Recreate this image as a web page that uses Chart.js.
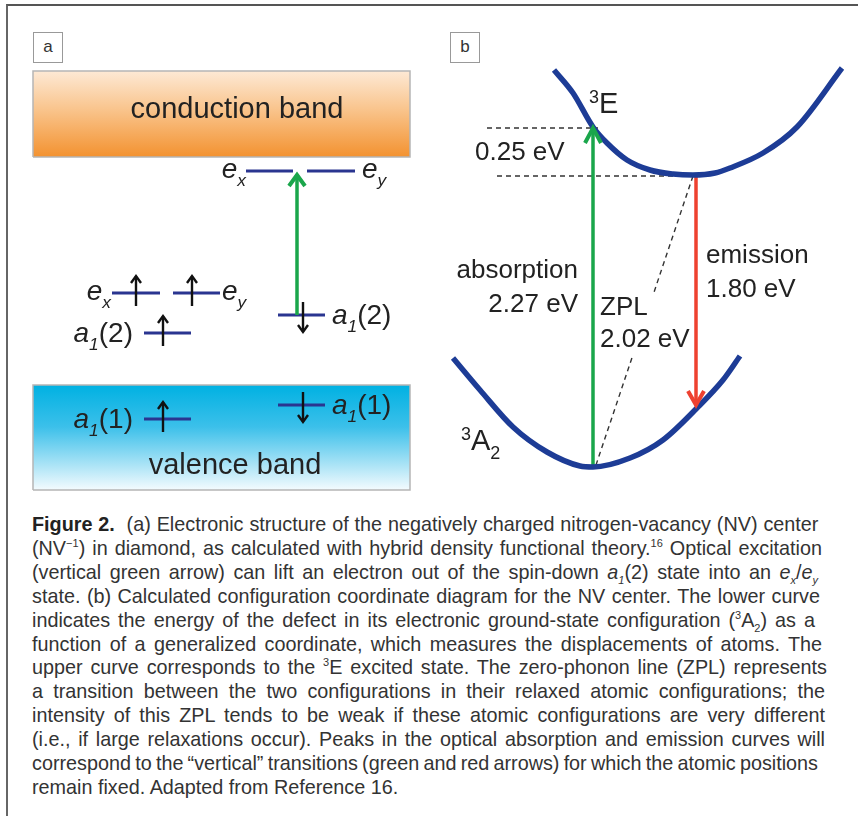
<!DOCTYPE html>
<html>
<head>
<meta charset="utf-8">
<script src="https://cdn.jsdelivr.net/npm/chart.js@4.4.1/dist/chart.umd.min.js"></script>
<style>
  body { margin: 0; background: #fff; width: 858px; height: 816px; overflow: hidden;
         font-family: "Liberation Sans", Arial, Helvetica, sans-serif; }
  #frame { position: absolute; left: 6px; top: 4px; width: 860px; height: 820px;
           border-top: 2px solid #555; border-left: 2px solid #666; }
  canvas { position: absolute; top: 0; }
  .tag { position: absolute; top: 32px; width: 28px; height: 29px; border: 1px solid #999;
         font-size: 17px; color: #333; text-align: center; line-height: 27px; }
  #cap { position: absolute; left: 32px; top: 513px; font-size: 19.8px; line-height: 23.9px; color: #333; }
  #cap div { white-space: nowrap; }
  #cap b { color: #222; }
  sup, sub { font-size: 11px; line-height: 0; }
</style>
</head>
<body>
<div id="frame"></div>
<div class="tag" style="left:33px">a</div>
<div class="tag" style="left:450px">b</div>
<canvas id="chartA" width="430" height="500" style="left:0"></canvas>
<canvas id="chartB" width="428" height="500" style="left:430px"></canvas>
<div id="cap">
  <div><span><b>Figure 2.</b>&nbsp; (a) Electronic structure of the negatively charged nitrogen-vacancy (NV) center</span></div>
  <div><span>(NV<sup>−1</sup>) in diamond, as calculated with hybrid density functional theory.<sup>16</sup> Optical excitation</span></div>
  <div><span>(vertical green arrow) can lift an electron out of the spin-down <i>a<sub>1</sub></i>(2) state into an <i>e<sub>x</sub></i>/<i>e<sub>y</sub></i></span></div>
  <div><span>state. (b) Calculated configuration coordinate diagram for the NV center. The lower curve</span></div>
  <div><span>indicates the energy of the defect in its electronic ground-state configuration (<sup>3</sup>A<sub>2</sub>) as a</span></div>
  <div><span>function of a generalized coordinate, which measures the displacements of atoms. The</span></div>
  <div><span>upper curve corresponds to the <sup>3</sup>E excited state. The zero-phonon line (ZPL) represents</span></div>
  <div><span>a transition between the two configurations in their relaxed atomic configurations; the</span></div>
  <div><span>intensity of this ZPL tends to be weak if these atomic configurations are very different</span></div>
  <div><span>(i.e., if large relaxations occur). Peaks in the optical absorption and emission curves will</span></div>
  <div><span>correspond to the “vertical” transitions (green and red arrows) for which the atomic positions</span></div>
  <div><span>remain fixed. Adapted from Reference 16.</span></div>
</div>

<script>
// ---- panel a: energy levels (x = position, y = energy, arb. units)
const bandX = [33, 410];
const bandTop = [429, 115];      // conduction, valence
const bandBottom = [343, 10];

// spin-up column: e_x, e_y, a1(2), a1(1)
const upLevelX0 = [112, 173, 144, 144];
const upLevelX1 = [160, 220, 191, 191];
const upLevelE = [207, 207, 167, 81];
const upSpinX = [136, 192, 163, 163];
// spin-down column: e_x, e_y, a1(2), a1(1)
const downLevelX0 = [246, 307, 278, 278];
const downLevelX1 = [293, 355, 325, 325];
const downLevelE = [329, 329, 185, 95];
const downSpinX = [null, null, 303, 303];
// optical excitation a1(2) -> e_x/e_y
const exciteX = 297;
const exciteE = [185, 325];

// ---- panel b: configuration coordinate diagram (x = coordinate q, y = energy)
const excitedQ = [124, 143, 163, 177, 197, 220, 243, 263, 285, 300, 333, 367, 412];
const excitedE = [430, 407, 373, 357, 340, 330, 326, 325, 327, 332, 347, 373, 432];
const groundQ = [23, 50, 83, 117, 150, 163, 200, 233, 267, 293, 310];
const groundE = [142, 110, 73, 48, 34, 33, 42, 60, 92, 120, 144];
const absorptionQ = 163, absorptionE = [35, 372];
const emissionQ = 266, emissionE = [325, 95];
const zplFrom = [263, 324], zplTo = [166, 35], zplGapE = [207, 142];
const guideTopQ = [57, 168], guideTopE = 372;
const guideBotQ = [67, 263], guideBotE = 324;

const FONT = '"Liberation Sans", Arial, Helvetica, sans-serif';
const LEVEL = '#2a3590', CURVE = '#1d3c96', GREEN = '#1aa64b', RED = '#ee4130', INK = '#222';

function pts(xs, ys) { return xs.map((x, i) => ({x: x, y: ys[i]})); }

function seg(x0, y0, x1, y1, color, width, extra) {
  return Object.assign({
    data: [{x: x0, y: y0}, {x: x1, y: y1}],
    borderColor: color, borderWidth: width, pointRadius: 0, fill: false, tension: 0
  }, extra || {});
}

function bandGradient(chart, top, bottom, stops) {
  const area = chart.chartArea;
  if (!area) return stops[stops.length - 1][1];
  const y = chart.scales.y;
  const g = chart.ctx.createLinearGradient(0, y.getPixelForValue(top), 0, y.getPixelForValue(bottom));
  stops.forEach(s => g.addColorStop(s[0], s[1]));
  return g;
}

const bandStops = [
  [[0, '#fde9d5'], [0.45, '#f9c48c'], [1, '#f39230']],
  [[0, '#00b1e2'], [0.4, '#3cc0ea'], [1, '#f4fbfe']]
];

function partFont(mode, size) {
  const small = mode.indexOf('sub') >= 0 || mode.indexOf('sup') >= 0;
  return (mode[0] === 'i' ? 'italic ' : '') + (small ? size * 0.62 : size) + 'px ' + FONT;
}
function partShift(mode, size) {
  if (mode.indexOf('sub') >= 0) return size * 0.3;
  if (mode.indexOf('sup') >= 0) return -size * 0.36;
  return 0;
}

function makeLabels(items) {
  return {
    id: 'textLabels',
    afterDatasetsDraw(chart) {
      const ctx = chart.ctx, xs = chart.scales.x, ys = chart.scales.y;
      ctx.save();
      ctx.fillStyle = INK;
      ctx.textBaseline = 'alphabetic';
      ctx.textAlign = 'left';
      items.forEach(it => {
        let w = 0;
        it.parts.forEach(p => { ctx.font = partFont(p[1], it.size); w += ctx.measureText(p[0]).width; });
        let x = xs.getPixelForValue(it.x);
        const y = ys.getPixelForValue(it.y);
        if (it.align === 'right') x -= w;
        else if (it.align === 'center') x -= w / 2;
        it.parts.forEach(p => {
          ctx.font = partFont(p[1], it.size);
          ctx.fillText(p[0], x, y + partShift(p[1], it.size));
          x += ctx.measureText(p[0]).width;
        });
      });
      ctx.restore();
    }
  };
}

// open chevron at the last point of datasets that have head: [length, halfWidth, lineWidth]
const arrowHeads = {
  id: 'arrowHeads',
  afterDatasetsDraw(chart) {
    const ctx = chart.ctx;
    chart.data.datasets.forEach((ds, i) => {
      if (!ds.head) return;
      const p = chart.getDatasetMeta(i).data;
      const a = p[p.length - 2], b = p[p.length - 1];
      const ang = Math.atan2(b.y - a.y, b.x - a.x);
      const bx = b.x - ds.head[0] * Math.cos(ang), by = b.y - ds.head[0] * Math.sin(ang);
      const nx = -Math.sin(ang) * ds.head[1], ny = Math.cos(ang) * ds.head[1];
      ctx.save();
      ctx.strokeStyle = ds.borderColor;
      ctx.lineWidth = ds.head[2];
      ctx.lineJoin = 'miter';
      ctx.beginPath();
      ctx.moveTo(bx + nx, by + ny);
      ctx.lineTo(b.x, b.y);
      ctx.lineTo(bx - nx, by - ny);
      ctx.stroke();
      ctx.restore();
    });
  }
};

function baseOptions(xmax) {
  return {
    responsive: false, animation: false, events: [],
    layout: {padding: 0},
    plugins: {legend: {display: false}, tooltip: {enabled: false}},
    scales: {
      x: {type: 'linear', min: 0, max: xmax, display: false},
      y: {type: 'linear', min: 0, max: 500, display: false}
    }
  };
}

// ---------- panel a ----------
const dsA = [];   // bottom-most first
bandTop.forEach((t, i) => {
  const b = bandBottom[i];
  dsA.push({
    data: pts(bandX, [t, t]), borderWidth: 0, pointRadius: 0, tension: 0,
    fill: {value: b},
    backgroundColor: c => bandGradient(c.chart, t, b, bandStops[i])
  });
  dsA.push({
    data: pts([bandX[0], bandX[0], bandX[1], bandX[1], bandX[0]], [b, t, t, b, b]),
    borderColor: '#b5b5b5', borderWidth: 1.5, pointRadius: 0, fill: false, tension: 0
  });
});
upLevelE.forEach((e, i) => dsA.push(seg(upLevelX0[i], e, upLevelX1[i], e, LEVEL, 3)));
downLevelE.forEach((e, i) => dsA.push(seg(downLevelX0[i], e, downLevelX1[i], e, LEVEL, 3)));
upSpinX.forEach((x, i) => dsA.push(seg(x, upLevelE[i] - 13, x, upLevelE[i] + 17, '#111', 2.4, {head: [7, 5, 2.4]})));
downSpinX.forEach((x, i) => {
  if (x !== null) dsA.push(seg(x, downLevelE[i] + 13, x, downLevelE[i] - 17, '#111', 2.4, {head: [7, 5, 2.4]}));
});
dsA.push(seg(exciteX, exciteE[0], exciteX, exciteE[1], GREEN, 3.5, {head: [11, 8, 4]}));

const a1 = p => [['a', 'i'], ['1', 'isub'], [p, '']];
const labelsA = [
  {x: 237, y: 382, parts: [['conduction band', '']], size: 29, align: 'center'},
  {x: 235, y: 26, parts: [['valence band', '']], size: 29, align: 'center'},
  {x: 246, y: 322, parts: [['e', 'i'], ['x', 'isub']], size: 28, align: 'right'},
  {x: 362, y: 322, parts: [['e', 'i'], ['y', 'isub']], size: 28, align: 'left'},
  {x: 111, y: 200, parts: [['e', 'i'], ['x', 'isub']], size: 28, align: 'right'},
  {x: 222, y: 200, parts: [['e', 'i'], ['y', 'isub']], size: 28, align: 'left'},
  {x: 133, y: 158, parts: a1('(2)'), size: 28, align: 'right'},
  {x: 332, y: 176, parts: a1('(2)'), size: 28, align: 'left'},
  {x: 133, y: 72, parts: a1('(1)'), size: 28, align: 'right'},
  {x: 332, y: 86, parts: a1('(1)'), size: 28, align: 'left'}
];

new Chart(document.getElementById('chartA'), {
  type: 'line',
  data: {datasets: dsA.slice().reverse()},
  options: baseOptions(430),
  plugins: [arrowHeads, makeLabels(labelsA)]
});

// ---------- panel b ----------
const dashed = {borderDash: [5, 4]};
const dsB = [
  seg(guideTopQ[0], guideTopE, guideTopQ[1], guideTopE, '#333', 1.4, dashed),
  seg(guideBotQ[0], guideBotE, guideBotQ[1], guideBotE, '#333', 1.4, dashed),
  seg(zplFrom[0], zplFrom[1], zplFrom[0] + (zplGapE[0] - zplFrom[1]) * (zplTo[0] - zplFrom[0]) / (zplTo[1] - zplFrom[1]), zplGapE[0], '#333', 1.4, dashed),
  seg(zplFrom[0] + (zplGapE[1] - zplFrom[1]) * (zplTo[0] - zplFrom[0]) / (zplTo[1] - zplFrom[1]), zplGapE[1], zplTo[0], zplTo[1], '#333', 1.4, dashed),
  seg(absorptionQ, absorptionE[0], absorptionQ, absorptionE[1], GREEN, 3.5, {head: [15, 8, 4]}),
  seg(emissionQ, emissionE[0], emissionQ, emissionE[1], RED, 3.5, {head: [14, 8, 4]}),
  {data: pts(excitedQ, excitedE), borderColor: CURVE, borderWidth: 5.5, pointRadius: 0, fill: false, cubicInterpolationMode: 'monotone'},
  {data: pts(groundQ, groundE), borderColor: CURVE, borderWidth: 5.5, pointRadius: 0, fill: false, cubicInterpolationMode: 'monotone'}
];

const labelsB = [
  {x: 159, y: 387, parts: [['3', 'sup'], ['E', '']], size: 29, align: 'left'},
  {x: 45, y: 340, parts: [['0.25 eV', '']], size: 26, align: 'left'},
  {x: 148, y: 222, parts: [['absorption', '']], size: 26, align: 'right'},
  {x: 148, y: 188, parts: [['2.27 eV', '']], size: 26, align: 'right'},
  {x: 170, y: 185, parts: [['ZPL', '']], size: 26, align: 'left'},
  {x: 170, y: 153, parts: [['2.02 eV', '']], size: 26, align: 'left'},
  {x: 276, y: 237, parts: [['emission', '']], size: 26, align: 'left'},
  {x: 276, y: 203, parts: [['1.80 eV', '']], size: 26, align: 'left'},
  {x: 31, y: 50, parts: [['3', 'sup'], ['A', ''], ['2', 'sub']], size: 29, align: 'left'}
];

new Chart(document.getElementById('chartB'), {
  type: 'line',
  data: {datasets: dsB.slice().reverse()},
  options: baseOptions(428),
  plugins: [arrowHeads, makeLabels(labelsB)]
});

// caption: stretch word spacing so each line ends where it does in the print
const lineEnds = [818, 822, 818, 820, 815, 822, 827, 825, 825, 825, 818, null];
document.querySelectorAll('#cap span').forEach((s, i) => {
  if (!lineEnds[i]) return;
  const spaces = (s.textContent.match(/ /g) || []).length;
  const w = s.getBoundingClientRect().width;
  s.style.wordSpacing = ((lineEnds[i] - 32 - w) / spaces) + 'px';
});
</script>
</body>
</html>
